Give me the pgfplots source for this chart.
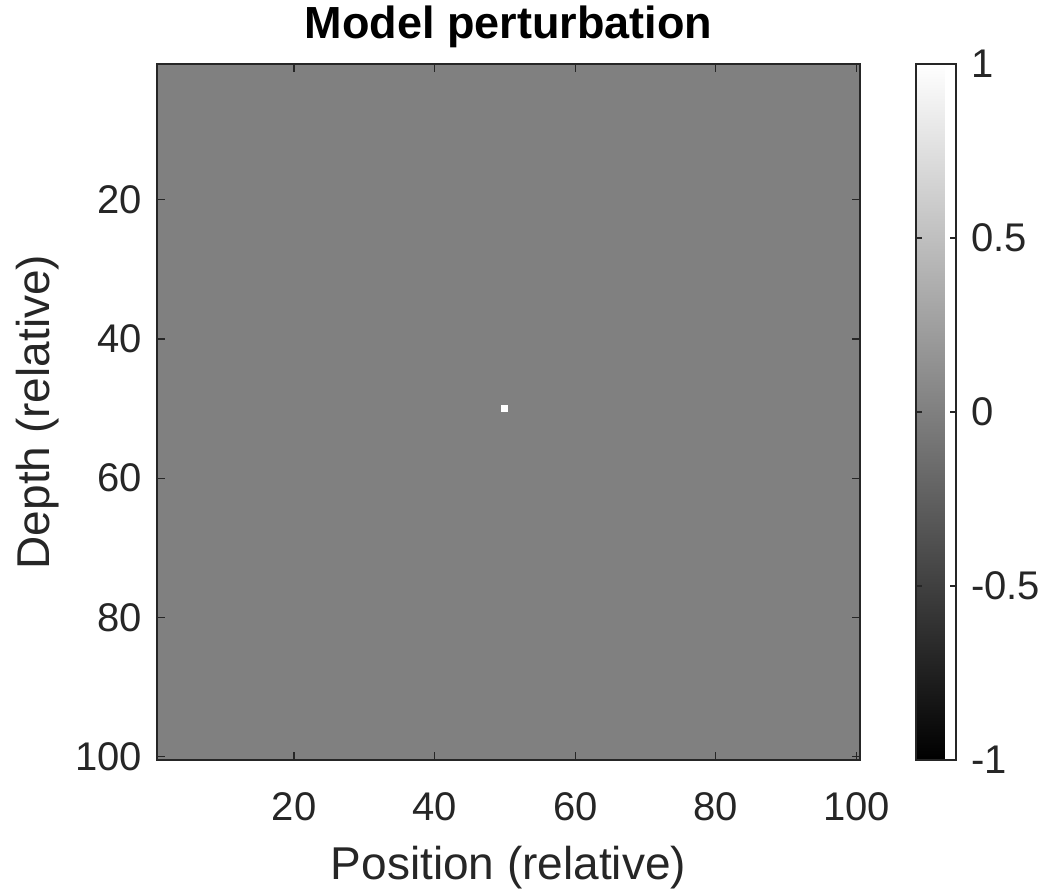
\documentclass[border=0pt]{standalone}
\usepackage{pgfplots}
\pgfplotsset{compat=1.18}
\usepackage{fontspec}
\setmainfont{Liberation Sans}
\definecolor{bggray}{RGB}{128,128,128}
\definecolor{axgray}{RGB}{38,38,38}
\begin{document}
\begin{tikzpicture}
\begin{axis}[
  at={(0,0)}, anchor=south west,
  scale only axis,
  width=351.5pt, height=348pt,
  xmin=0.5, xmax=100.5, ymin=0.5, ymax=100.5,
  y dir=reverse,
  axis on top,
  xtick={20,40,60,80,100}, ytick={20,40,60,80,100},
  xticklabels={20,40,60,80,100}, yticklabels={20,40,60,80,100},
  tick align=inside,
  major tick length=4pt,
  axis line style={axgray, line width=0.6pt},
  tick style={axgray, line width=0.6pt},
  ticklabel style={font=\fontsize{20}{24}\selectfont, text=axgray},
  xticklabel style={anchor=base, yshift=-30pt},
  yticklabel style={xshift=-4pt},
  xlabel={Position (relative)},
  ylabel={Depth (relative)},
  label style={font=\fontsize{23}{27}\selectfont, text=axgray},
  xlabel style={at={(axis description cs:0.5,0)}, anchor=base, yshift=-59.5pt},
  ylabel style={at={(axis description cs:-0.1522,0.5)}, anchor=base},
  title={\textbf{Model perturbation}},
  title style={font=\fontsize{22.5}{27}\selectfont, text=black,
    at={(axis description cs:0.5,1)}, anchor=base, yshift=7pt},
  colormap={mygray}{rgb255(0)=(0,0,0); rgb255(1)=(255,255,255)},
  point meta min=-1, point meta max=1,
  colorbar,
  colorbar style={
    at={(parent axis.north east)}, anchor=north west, xshift=19.5pt,
    width=20pt,
    ytick={-1,-0.5,0,0.5,1},
    yticklabels={-1,-0.5,0,0.5,1},
    tick align=inside,
    major tick length=3pt,
    axis line style={axgray, line width=0.6pt},
    tick style={axgray, line width=0.6pt},
    yticklabel style={font=\fontsize{20}{24}\selectfont, text=axgray, xshift=4pt},
  },
]
\addplot[fill=bggray, draw=none] coordinates {(0.5,0.5) (100.5,0.5) (100.5,100.5) (0.5,100.5)} -- cycle;
\addplot[fill=white, draw=none] coordinates {(49.5,49.5) (50.5,49.5) (50.5,50.5) (49.5,50.5)} -- cycle;
\end{axis}
\pgfresetboundingbox
\useasboundingbox (-78.5pt,-64.5pt) rectangle (442pt,380pt);
\end{tikzpicture}
\end{document}
